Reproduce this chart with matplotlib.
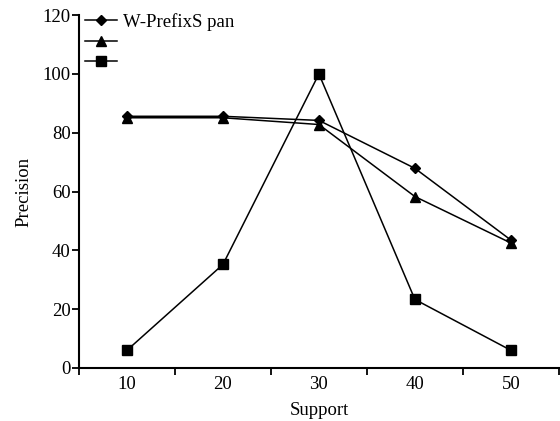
import matplotlib
matplotlib.use('Agg')
import matplotlib.pyplot as plt
import numpy as np

plt.rcParams['font.family'] = ['Liberation Serif', 'DejaVu Serif']

supports = ['10', '20', '30', '40', '50']
wprefix = [85.6, 85.6, 84.2, 67.9, 43.5]
series2 = [85.1, 85.1, 82.8, 58.3, 42.5]
series3 = [6.0, 35.2, 100.0, 23.3, 6.0]
labels = ['W-PrefixS pan', ' ', ' ']

fig = plt.figure(figsize=(5.6, 4.21), dpi=100)
ax = fig.add_axes([0.141, 0.126, 0.857, 0.838])

x = np.arange(len(supports))
ax.plot(x, wprefix, color='black', lw=1.1, marker='D', ms=5.5, label=labels[0])
ax.plot(x, series2, color='black', lw=1.1, marker='^', ms=7.5, label=labels[1])
ax.plot(x, series3, color='black', lw=1.1, marker='s', ms=7.5, label=labels[2])

ax.set_xlim(-0.5, 4.5)
ax.set_ylim(0, 120)
ax.set_yticks(np.arange(0, 121, 20))
ax.set_xticks(x)
ax.set_xticklabels(supports)
ax.set_xticks(np.arange(-0.5, 4.6, 1), minor=True)
ax.tick_params(axis='x', which='major', length=0, labelsize=13.5, pad=6)
ax.tick_params(axis='x', which='minor', length=5, width=1.3, direction='out')
ax.tick_params(axis='y', length=5, width=1.3, direction='out', labelsize=13.5, pad=1)

for side in ['top', 'right']:
    ax.spines[side].set_visible(False)
for side in ['left', 'bottom']:
    ax.spines[side].set_linewidth(1.5)

ax.set_xlabel('Support', fontsize=13.5, labelpad=6)
ax.set_ylabel('Precision', fontsize=13.5, labelpad=7)

ax.legend(loc='upper left', frameon=False, fontsize=13.5, handlelength=1.7,
          handletextpad=0.3, labelspacing=0.17, borderaxespad=0.0,
          bbox_to_anchor=(-0.003, 1.027))

fig.savefig('out.png', dpi=100)
